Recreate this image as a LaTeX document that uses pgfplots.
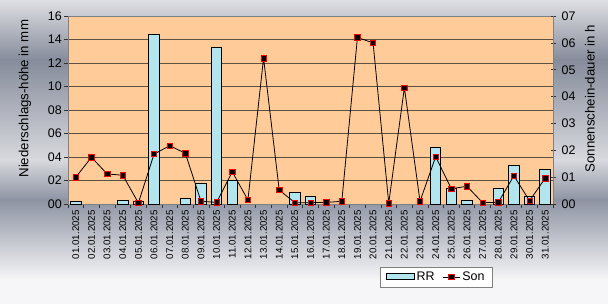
\documentclass[border=0pt]{standalone}
\usepackage{pgfplots}
\pgfplotsset{compat=1.18}
\usepackage{fontspec}
\setmainfont{Liberation Sans}
\definecolor{peach}{RGB}{255,204,153}
\definecolor{barcol}{RGB}{178,229,238}
\definecolor{gridc}{RGB}{95,80,65}
\definecolor{bgA}{RGB}{222,223,227}
\definecolor{bgB}{RGB}{134,140,155}
\definecolor{bgC}{RGB}{216,217,222}
\definecolor{bgD}{RGB}{142,148,163}
\definecolor{bgE}{RGB}{246,246,248}
\begin{document}
\begin{tikzpicture}[x=1bp,y=1bp]
\shade[top color=bgA, bottom color=bgB] (0,244) rectangle (608,304);
\shade[top color=bgB, bottom color=bgC] (0,144) rectangle (608,244.2);
\shade[top color=bgC, bottom color=bgD] (0,104) rectangle (608,144.2);
\shade[top color=bgD, bottom color=bgE] (0,24) rectangle (608,104.2);
\fill[bgE] (0,0) rectangle (608,24.2);
\begin{axis}[
  at={(68bp,100bp)}, anchor=south west,
  width=485bp, height=188bp, scale only axis,
  xmin=0.5, xmax=31.5, ymin=0, ymax=16,
  axis background/.style={fill=peach},
  axis line style={gray, line width=0.8bp},
  ytick pos=left, xtick pos=bottom,
  tick align=outside, major tick length=4bp, minor tick length=4bp,
  ytick={0,2,...,16},
  yticklabels={00,02,04,06,08,10,12,14,16},
  ymajorgrids, grid style={gridc, line width=0.8bp},
  xtick={1,...,31},
  major x tick style={draw=none},
  minor xtick={0.5,1.5,...,31.5},
  minor x tick style={draw=black!80, line width=0.6bp},
  ytick style={draw=black!80, line width=0.6bp},
  xticklabels={01.01.2025,02.01.2025,03.01.2025,04.01.2025,05.01.2025,06.01.2025,07.01.2025,08.01.2025,09.01.2025,10.01.2025,11.01.2025,12.01.2025,13.01.2025,14.01.2025,15.01.2025,16.01.2025,17.01.2025,18.01.2025,19.01.2025,20.01.2025,21.01.2025,22.01.2025,23.01.2025,24.01.2025,25.01.2025,26.01.2025,27.01.2025,28.01.2025,29.01.2025,30.01.2025,31.01.2025},
  xticklabel style={rotate=90, anchor=east, font=\fontsize{9.8}{10}\selectfont, inner sep=2bp},
  yticklabel style={font=\fontsize{12.5}{14}\selectfont, inner sep=2bp},
  ylabel={Niederschlags-höhe in mm},
  ylabel style={font=\fontsize{13.3}{15}\selectfont, at={(axis description cs:-0.0887,0.56)}, anchor=center},
]
\addplot[ybar, bar width=0.67, fill=barcol, draw=black, line width=0.9bp] coordinates {
(1,0.2) (4,0.3) (5,0.2) (6,14.4) (8,0.45) (9,1.75) (10,13.3) (11,2.0)
(15,1.0) (16,0.65) (24,4.8) (25,1.3) (26,0.3) (28,1.35) (29,3.25) (30,0.65) (31,2.95)
};
\end{axis}
\begin{axis}[
  at={(68bp,100bp)}, anchor=south west,
  width=485bp, height=188bp, scale only axis,
  xmin=0.5, xmax=31.5, ymin=0, ymax=7,
  axis x line=none, axis y line*=right,
  axis line style={gray, line width=0.8bp},
  tick align=center, major tick length=5bp,
  ytick={0,...,7},
  yticklabels={00,01,02,03,04,05,06,07},
  ytick style={draw=black!80, line width=0.6bp},
  yticklabel style={font=\fontsize{12.5}{14}\selectfont, inner sep=2bp, xshift=4bp},
  ylabel={Sonnenschein-dauer in h},
  ylabel style={font=\fontsize{13.3}{15}\selectfont, at={(axis description cs:1.076,0.56)}, anchor=center, rotate=0},
  clip=false,
  legend columns=2,
  legend style={at={(axis description cs:0.759,-0.388)}, anchor=center, draw=gray, fill=white,
    font=\fontsize{12.5}{14}\selectfont, inner xsep=6bp, inner ysep=3bp,
    /tikz/every even column/.append style={column sep=6bp}},
]
\addlegendimage{legend image code/.code={\draw[fill=barcol, draw=black, line width=0.9bp] (0bp,-3bp) rectangle (28bp,3bp);}}
\addlegendentry{RR}
\addplot[black, line width=0.8bp, mark=square*, mark size=2.7bp,
  mark options={fill=black, draw=red, line width=0.6bp}] coordinates {
(1,1.0) (2,1.74) (3,1.12) (4,1.07) (5,0.04) (6,1.86) (7,2.17) (8,1.89) (9,0.1) (10,0.06)
(11,1.2) (12,0.15) (13,5.43) (14,0.52) (15,0.05) (16,0.05) (17,0.06) (18,0.1) (19,6.2) (20,6.0)
(21,0.03) (22,4.33) (23,0.1) (24,1.76) (25,0.57) (26,0.66) (27,0.05) (28,0.06) (29,1.05) (30,0.12) (31,0.96)
};
\addlegendentry{Son}
\end{axis}
\end{tikzpicture}
\end{document}
